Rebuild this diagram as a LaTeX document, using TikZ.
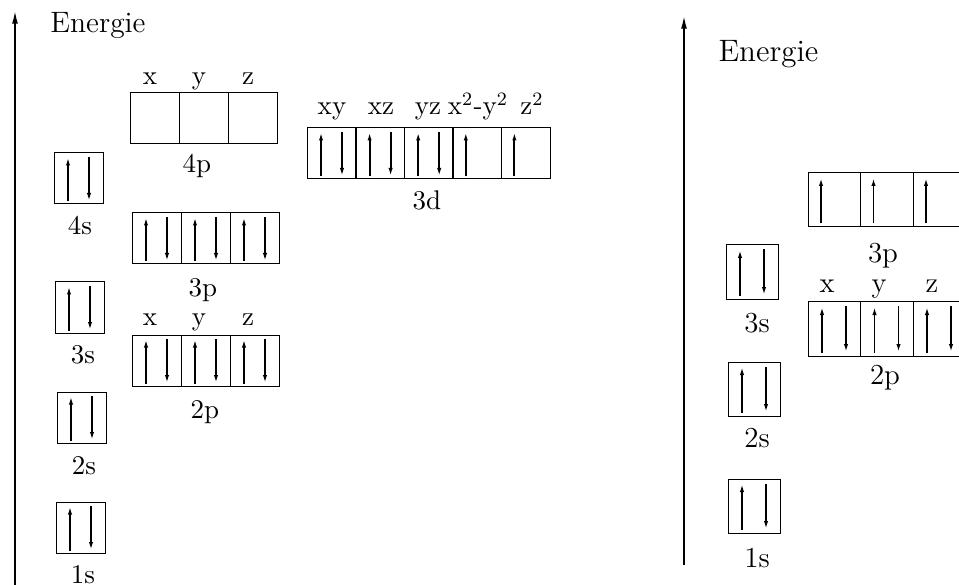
\documentclass[tikz,border=0pt]{standalone}
\usetikzlibrary{arrows.meta, positioning}

\begin{document}
\begin{tikzpicture}[x=0.4pt, y=-0.4pt,
 cell/.style={draw, line width=0.4pt, inner sep=0pt, outer sep=0pt,
   minimum width=19.6pt, minimum height=20.4pt, anchor=north west},
 rcell/.style={cell, minimum width=21pt, minimum height=21.6pt},
 spin/.style={line width=0.75pt, -{Latex[length=3.4pt,width=1.7pt]}},
 axis/.style={line width=0.8pt, -{Latex[length=5.5pt,width=2.4pt]}},
 lbl/.style={anchor=base, inner sep=0pt, font=\fontsize{10.8}{12}\selectfont},
 rlbl/.style={lbl, font=\fontsize{11.6}{13}\selectfont}]

  \useasboundingbox (0,0) rectangle (959,585);
  \clip (0,0) rectangle (959,585);

  % left: energy axis
  \coordinate (la0) at (15,585);
  \coordinate (la1) at (15,10);
  \draw[axis] (la0) -- (la1);
  \node[anchor=base west, inner sep=0pt, font=\fontsize{11.8}{13}\selectfont] (len) at (50,33) {Energie};

  % left: s orbitals
  \foreach \n/\x/\y in {s1/56/502, s2/57/392, s3/55/282, s4/54/153}
    \node[cell] (\n) at (\x,\y) {};
  \foreach \n/\t/\x/\y in {ls1/1s/83/583, ls2/2s/84/474, ls3/3s/83/363, ls4/4s/80/235}
    \node[lbl] (\n) at (\x,\y) {\t};

  % left: p orbitals
  \foreach \r/\x/\y in {2/132/335, 3/132/213, 4/130/93}
    \foreach \i [count=\k from 0] in {x,y,z}
      \node[cell] (p\r\i) at (\x+49*\k,\y) {};
  \foreach \i/\x in {x/150, y/199, z/248} {
    \node[lbl] (lp2\i) at (\x,325) {\i};
    \node[lbl] (lp4\i) at (\x,85) {\i};
  }
  \node[lbl] (lp2) at (205,418) {2p};
  \node[lbl] (lp3) at (203,297) {3p};
  \node[lbl] (lp4) at (197,173) {4p};

  % left: d orbitals
  \foreach \i [count=\k from 0] in {xy,xz,yz,xxyy,zz}
    \node[cell] (d\i) at (307+48.6*\k,128) {};
  \foreach \n/\t/\x in {ldxy/xy/332, ldxz/xz/381, ldyz/yz/428,
      ldxxyy/x\textsuperscript{2}-y\textsuperscript{2}/478, ldzz/z\textsuperscript{2}/532}
    \node[lbl] (\n) at (\x,115) {\t};
  \node[lbl] (ld) at (427,210) {3d};

  % left: electrons
  \foreach \c in {s1,s2,s3,s4,p2x,p2y,p2z,p3x,p3y,p3z,dxy,dxz,dyz} {
    \draw[spin] ([xshift=5.6pt,yshift=1pt]\c.south west) -- ([xshift=5.6pt,yshift=-1.6pt]\c.north west);
    \draw[spin] ([xshift=14pt,yshift=-1.6pt]\c.north west) -- ([xshift=14pt,yshift=1pt]\c.south west);
  }
  \foreach \c in {dxxyy,dzz}
    \draw[spin] ([xshift=5.2pt,yshift=1pt]\c.south west) -- ([xshift=5.2pt,yshift=-1.6pt]\c.north west);

  % right: energy axis
  \coordinate (ra0) at (684,565);
  \coordinate (ra1) at (684,15);
  \draw[axis] (ra0) -- (ra1);
  \node[anchor=base west, inner sep=0pt, font=\fontsize{12.4}{14}\selectfont] (ren) at (718,62) {Energie};

  % right: s orbitals
  \foreach \n/\x/\y in {rs1/728/479, rs2/728/362, rs3/726/245}
    \node[rcell] (\n) at (\x,\y) {};
  \foreach \n/\t/\y in {lrs1/1s/567, lrs2/2s/447, lrs3/3s/332}
    \node[rlbl] (\n) at (757,\y) {\t};

  % right: p orbitals
  \foreach \r/\y in {2/302, 3/173}
    \foreach \i [count=\k from 0] in {x,y,z}
      \node[rcell] (rp\r\i) at (808+52.5*\k,\y) {};
  \foreach \i/\x in {x/827, y/879, z/932}
    \node[rlbl] (lrp\i) at (\x,293) {\i};
  \node[rlbl] (lrp2) at (885,384) {2p};
  \node[rlbl] (lrp3) at (883,263) {3p};

  % right: electrons
  \foreach \c in {rs1,rs2,rs3,rp2x,rp2y,rp2z} {
    \draw[spin] ([xshift=5.6pt,yshift=1.4pt]\c.south west) -- ([xshift=5.6pt,yshift=-1.8pt]\c.north west);
    \draw[spin] ([xshift=15.2pt,yshift=-1.8pt]\c.north west) -- ([xshift=15.2pt,yshift=1.4pt]\c.south west);
  }
  \foreach \c in {rp3x,rp3y,rp3z}
    \draw[spin] ([xshift=5.2pt,yshift=1.4pt]\c.south west) -- ([xshift=5.2pt,yshift=-1.8pt]\c.north west);

\end{tikzpicture}
\end{document}
